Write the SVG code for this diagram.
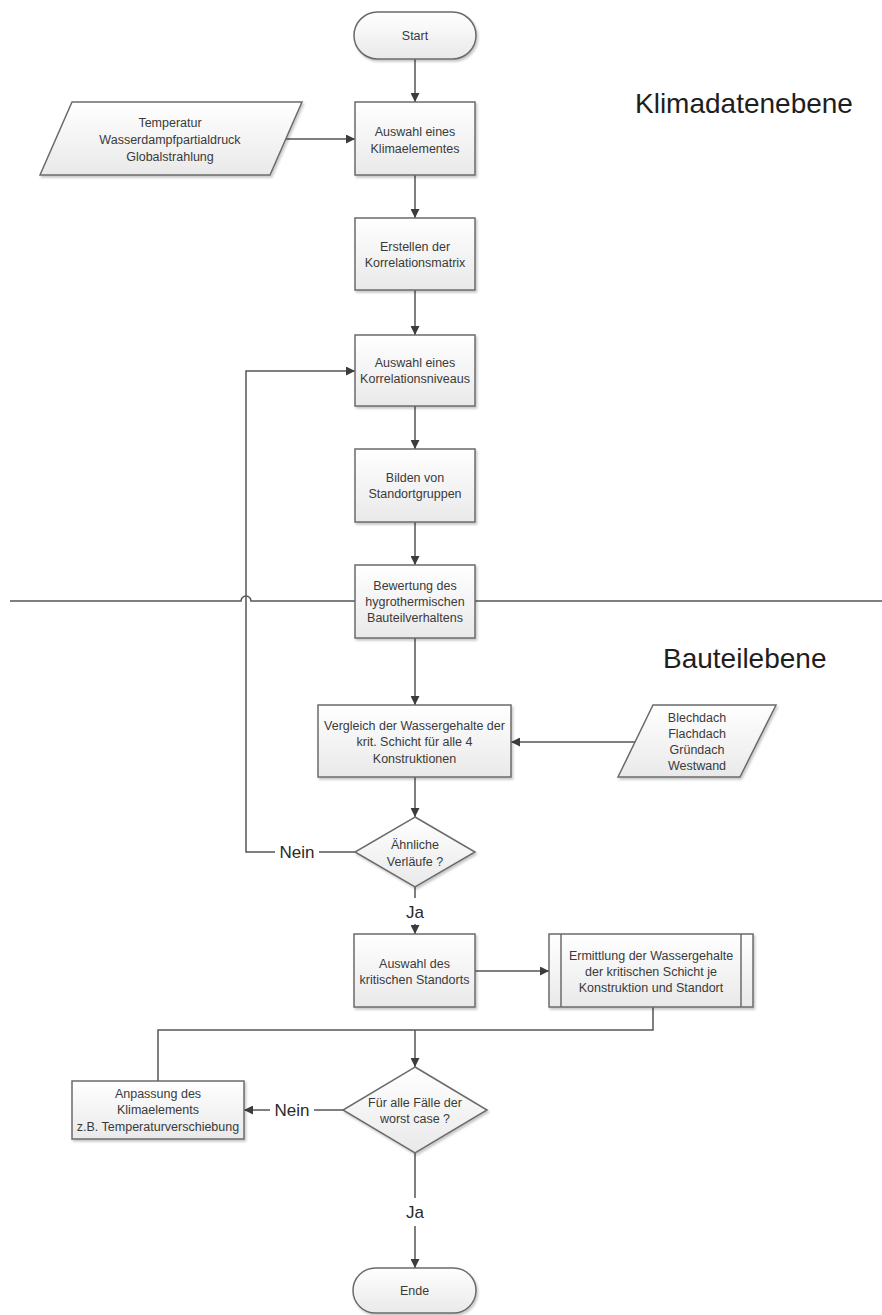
<svg xmlns="http://www.w3.org/2000/svg" width="882" height="1315" viewBox="0 0 882 1315">
<defs>
<linearGradient id="g" x1="0" y1="0" x2="0" y2="1">
<stop offset="0" stop-color="#ffffff"/>
<stop offset="1" stop-color="#e9e9e9"/>
</linearGradient>
<filter id="sh" x="-10%" y="-10%" width="125%" height="130%">
<feDropShadow dx="1.5" dy="2" stdDeviation="1.2" flood-color="#000" flood-opacity="0.22"/>
</filter>
<marker id="ar" viewBox="0 0 10 10" refX="10" refY="5" markerWidth="9" markerHeight="9" markerUnits="userSpaceOnUse" orient="auto">
<path d="M0,0 L10,5 L0,10 Z" fill="#3c3c3c"/>
</marker>
<style>
.n{fill:url(#g);stroke:#6b6b6b;stroke-width:1.5;filter:url(#sh)}
.t{font-family:"Liberation Sans",Arial,sans-serif;font-size:12.5px;fill:#3a3a3a;text-anchor:middle}
.lb{font-family:"Liberation Sans",Arial,sans-serif;font-size:17px;fill:#2a2a2a;text-anchor:middle}
.h{font-family:"Liberation Sans",Arial,sans-serif;font-size:28px;fill:#1e1e1e}
.c{fill:none;stroke:#555555;stroke-width:1.5}
.ca{fill:none;stroke:#555555;stroke-width:1.5;marker-end:url(#ar)}
</style>
</defs>
<rect width="882" height="1315" fill="#ffffff"/>

<g id="divider">
<path class="c" d="M10,601 H241 A5,5 0 0 1 251,601 H882"/>
</g>

<text class="h" x="635" y="113">Klimadatenebene</text>
<text class="h" x="663" y="668">Bauteilebene</text>

<g id="connectors">
<line class="ca" x1="415" y1="59" x2="415" y2="102"/>
<line class="ca" x1="286" y1="139" x2="355" y2="139"/>
<line class="ca" x1="415" y1="175" x2="415" y2="218"/>
<line class="ca" x1="415" y1="290" x2="415" y2="335"/>
<line class="ca" x1="415" y1="406" x2="415" y2="449"/>
<line class="ca" x1="415" y1="522" x2="415" y2="565"/>
<line class="ca" x1="415" y1="638" x2="415" y2="705"/>
<line class="ca" x1="636" y1="742" x2="511" y2="742"/>
<line class="ca" x1="415" y1="777" x2="415" y2="817"/>
<line class="c" x1="355" y1="852" x2="319" y2="852"/>
<path class="ca" d="M275,852 H246 V371 H355"/>
<text class="lb" x="297" y="858">Nein</text>
<line class="c" x1="415" y1="887" x2="415" y2="898"/>
<text class="lb" x="415" y="918">Ja</text>
<line class="ca" x1="415" y1="924" x2="415" y2="934"/>
<line class="ca" x1="475" y1="971" x2="549" y2="971"/>
<path class="c" d="M653,1007 V1030 H158 V1081"/>
<line class="ca" x1="415" y1="1030" x2="415" y2="1067"/>
<line class="c" x1="343" y1="1110" x2="314" y2="1110"/>
<text class="lb" x="292" y="1116">Nein</text>
<line class="ca" x1="270" y1="1110" x2="244" y2="1110"/>
<line class="c" x1="415" y1="1153" x2="415" y2="1198"/>
<text class="lb" x="415" y="1218">Ja</text>
<line class="ca" x1="415" y1="1226" x2="415" y2="1268"/>
</g>

<g id="start">
<rect class="n" x="354" y="12" width="122" height="47" rx="23.5"/>
<text class="t" x="415" y="40">Start</text>
</g>

<g id="input-klima">
<polygon class="n" points="72,102 302,102 270,175 40,175"/>
<text class="t" x="170" y="127">Temperatur</text>
<text class="t" x="170" y="143.5">Wasserdampfpartialdruck</text>
<text class="t" x="170" y="161">Globalstrahlung</text>
</g>

<g id="auswahl-klimaelement">
<rect class="n" x="355" y="102" width="120" height="73"/>
<text class="t" x="415" y="136">Auswahl eines</text>
<text class="t" x="415" y="152.5">Klimaelementes</text>
</g>

<g id="korrelationsmatrix">
<rect class="n" x="355" y="218" width="120" height="72"/>
<text class="t" x="415" y="251">Erstellen der</text>
<text class="t" x="415" y="267">Korrelationsmatrix</text>
</g>

<g id="korrelationsniveau">
<rect class="n" x="355" y="335" width="120" height="71"/>
<text class="t" x="415" y="366.5">Auswahl eines</text>
<text class="t" x="415" y="382.5">Korrelationsniveaus</text>
</g>

<g id="standortgruppen">
<rect class="n" x="355" y="449" width="120" height="73"/>
<text class="t" x="415" y="481.5">Bilden von</text>
<text class="t" x="415" y="498">Standortgruppen</text>
</g>

<g id="bewertung">
<rect class="n" x="355" y="565" width="120" height="73"/>
<text class="t" x="415" y="589.5">Bewertung des</text>
<text class="t" x="415" y="605.5">hygrothermischen</text>
<text class="t" x="415" y="621.5">Bauteilverhaltens</text>
</g>

<g id="vergleich">
<rect class="n" x="318" y="705" width="193" height="72"/>
<text class="t" x="414.5" y="729.5">Vergleich der Wassergehalte der</text>
<text class="t" x="414.5" y="746">krit. Schicht für alle 4</text>
<text class="t" x="414.5" y="762.5">Konstruktionen</text>
</g>

<g id="input-konstruktionen">
<polygon class="n" points="653,705 776,705 740,777 618,777"/>
<text class="t" x="697" y="721.5">Blechdach</text>
<text class="t" x="697" y="737.5">Flachdach</text>
<text class="t" x="697" y="753.5">Gründach</text>
<text class="t" x="697" y="770">Westwand</text>
</g>

<g id="aehnliche-verlaeufe">
<polygon class="n" points="415,817 475,852 415,887 355,852"/>
<text class="t" x="415" y="848.5">Ähnliche</text>
<text class="t" x="415" y="865.5">Verläufe ?</text>
</g>

<g id="kritischer-standort">
<rect class="n" x="354" y="934" width="121" height="73"/>
<text class="t" x="414.5" y="967.5">Auswahl des</text>
<text class="t" x="414.5" y="983.5">kritischen Standorts</text>
</g>

<g id="ermittlung">
<rect class="n" x="549" y="934" width="204" height="73"/>
<line x1="561" y1="934" x2="561" y2="1007" stroke="#6b6b6b" stroke-width="1.5"/>
<line x1="741" y1="934" x2="741" y2="1007" stroke="#6b6b6b" stroke-width="1.5"/>
<text class="t" x="651" y="959.5">Ermittlung der Wassergehalte</text>
<text class="t" x="651" y="975.5">der kritischen Schicht je</text>
<text class="t" x="651" y="991.5">Konstruktion und Standort</text>
</g>

<g id="anpassung">
<rect class="n" x="72" y="1081" width="172" height="58"/>
<text class="t" x="158" y="1097.5">Anpassung des</text>
<text class="t" x="158" y="1114">Klimaelements</text>
<text class="t" x="158" y="1130.5">z.B. Temperaturverschiebung</text>
</g>

<g id="worst-case">
<polygon class="n" points="415,1067 487,1110 415,1153 343,1110"/>
<text class="t" x="415" y="1106.5">Für alle Fälle der</text>
<text class="t" x="415" y="1122.5">worst case ?</text>
</g>

<g id="ende">
<rect class="n" x="353" y="1268" width="123" height="45" rx="22.5"/>
<text class="t" x="414.5" y="1295">Ende</text>
</g>
</svg>
